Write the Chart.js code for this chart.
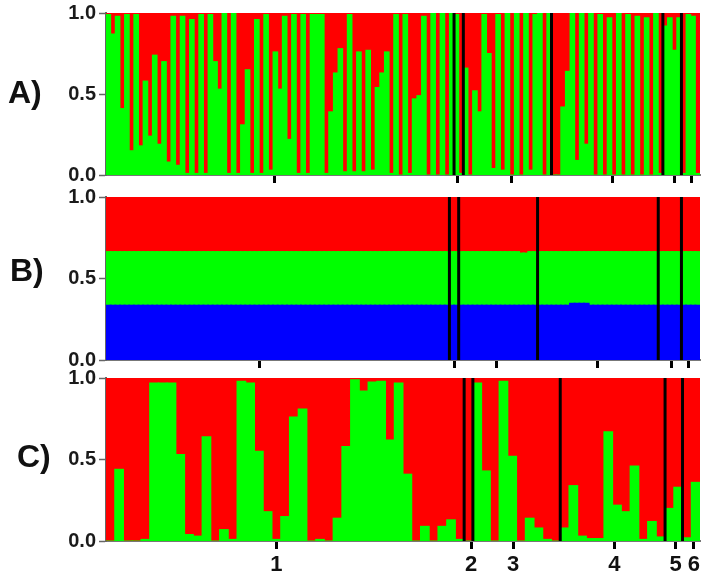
<!DOCTYPE html>
<html>
<head>
<meta charset="utf-8">
<script src="https://cdn.jsdelivr.net/npm/chart.js@4.4.1/dist/chart.umd.min.js"></script>
<style>
  body { margin: 0; background: #fff; }
  #wrap { position: relative; width: 703px; height: 578px; overflow: hidden; }
  canvas { position: absolute; left: 0; }
  .lab { position: absolute; font: bold 32px Arial, "Liberation Sans", sans-serif; line-height: 32px; color: #111; }
</style>
</head>
<body>
<div id="wrap">
  <canvas id="chartA" width="703" height="192" style="top:0px;width:703px;height:192px"></canvas>
  <canvas id="chartB" width="703" height="193" style="top:184px;width:703px;height:193px"></canvas>
  <canvas id="chartC" width="703" height="213" style="top:365px;width:703px;height:213px"></canvas>
  <div class="lab" style="left:8px;top:76px">A)</div>
  <div class="lab" style="left:10px;top:254px">B)</div>
  <div class="lab" style="left:17px;top:440px">C)</div>
</div>
<script>
// populations (labels under panel C)
const groupNames = ['1', '2', '3', '4', '5', '6'];
const yTickValues = [0, 0.5, 1];

// A) K=2 : green membership per individual (red is the rest)
const sizesA = [75, 2, 19, 24, 4, 4];
const greenA = [
  0.99, 0.87, 0.98, 0.41, 0.99, 0.15, 0.99, 0.18, 0.58, 0.24, 0.74, 0.19, 0.70, 0.08, 0.98, 0.06,
  0.98, 0.01, 0.96, 0.01, 0.99, 0.01, 0.99, 0.70, 0.53, 1.00, 0.01, 1.00, 0.01, 0.31, 0.65, 0.01,
  0.96, 0.01, 0.99, 0.03, 0.76, 0.53, 0.98, 0.22, 0.99, 0.01, 0.99, 0.01, 0.99, 0.99, 0.99, 0.01,
  0.39, 0.63, 0.78, 0.02, 0.99, 0.02, 0.76, 0.02, 0.77, 0.03, 0.54, 0.63, 0.76, 0.01, 0.99,
  0.00, 0.99, 0.01, 0.47, 0.49, 0.98, 0.00, 1.00, 0.00, 1.00, 0.00, 1.00,
  0.99, 0.01,
  0.66, 0.00, 0.52, 0.39, 0.99, 0.75, 0.04, 0.99, 0.03, 1.00, 0.00, 1.00, 0.00, 1.00, 0.03, 0.99,
  1.00, 0.00, 1.00,
  0.00, 0.00, 0.42, 0.64, 1.00, 0.09, 1.00, 0.19, 1.00, 0.00, 0.99, 0.00, 0.97, 0.00, 1.00, 0.00,
  0.99, 0.00, 0.98, 0.00, 0.97, 0.00, 1.00, 0.01,
  0.92, 0.97, 0.77, 0.97,
  0.01, 0.99, 0.98, 0.01
];
const tickPosA = [35.9, 75.2, 86.9, 108.7, 121.9, 125.6];

// B) K=3 : blue and green membership (red is the rest)
const sizesB = [74, 2, 17, 26, 5, 4];
const blueB = [
  0.333, 0.333, 0.333, 0.333, 0.333, 0.333, 0.333, 0.333, 0.333, 0.333, 0.333, 0.333, 0.333, 0.333, 0.333, 0.333,
  0.333, 0.333, 0.333, 0.333, 0.333, 0.333, 0.333, 0.333, 0.333, 0.333, 0.333, 0.333, 0.333, 0.333, 0.333, 0.333,
  0.333, 0.333, 0.333, 0.333, 0.333, 0.333, 0.333, 0.333, 0.333, 0.333, 0.333, 0.333, 0.333, 0.333, 0.333, 0.333,
  0.333, 0.333, 0.333, 0.333, 0.333, 0.333, 0.333, 0.333, 0.333, 0.333, 0.333, 0.333, 0.333, 0.333, 0.333, 0.333,
  0.333, 0.333, 0.333, 0.333, 0.333, 0.333, 0.333, 0.333, 0.333, 0.333, 0.333, 0.333, 0.333, 0.333, 0.333, 0.333,
  0.333, 0.333, 0.333, 0.333, 0.333, 0.333, 0.333, 0.333, 0.333, 0.333, 0.333, 0.333, 0.333, 0.333, 0.333, 0.333,
  0.333, 0.333, 0.333, 0.333, 0.345, 0.345, 0.345, 0.345, 0.333, 0.333, 0.333, 0.333, 0.333, 0.333, 0.333, 0.333,
  0.333, 0.333, 0.333, 0.333, 0.333, 0.333, 0.333, 0.333, 0.333, 0.333, 0.333, 0.333, 0.333, 0.333, 0.333, 0.333
];
const greenB = [
  0.329, 0.329, 0.329, 0.329, 0.329, 0.329, 0.329, 0.329, 0.329, 0.329, 0.329, 0.329, 0.329, 0.329, 0.329, 0.329,
  0.329, 0.329, 0.329, 0.329, 0.329, 0.329, 0.329, 0.329, 0.329, 0.329, 0.329, 0.329, 0.329, 0.329, 0.329, 0.329,
  0.329, 0.329, 0.329, 0.329, 0.329, 0.329, 0.329, 0.329, 0.329, 0.329, 0.329, 0.329, 0.329, 0.329, 0.329, 0.329,
  0.329, 0.329, 0.329, 0.329, 0.329, 0.329, 0.329, 0.329, 0.329, 0.329, 0.329, 0.329, 0.329, 0.329, 0.329, 0.329,
  0.329, 0.329, 0.329, 0.329, 0.329, 0.329, 0.329, 0.329, 0.329, 0.329, 0.329, 0.329, 0.329, 0.329, 0.329, 0.329,
  0.329, 0.329, 0.329, 0.329, 0.329, 0.329, 0.329, 0.329, 0.329, 0.320, 0.320, 0.329, 0.329, 0.329, 0.329, 0.329,
  0.329, 0.329, 0.329, 0.329, 0.317, 0.317, 0.317, 0.317, 0.329, 0.329, 0.329, 0.329, 0.329, 0.329, 0.329, 0.329,
  0.329, 0.329, 0.329, 0.329, 0.329, 0.329, 0.329, 0.329, 0.329, 0.329, 0.329, 0.329, 0.329, 0.329, 0.329, 0.329
];
const tickPosB = [32.6, 74.6, 83.6, 105.5, 121.3, 125.1];

// C) K=2 : green membership per individual
const sizesC = [41, 1, 10, 12, 2, 2];
const greenC = [
  0.00, 0.44, 0.00, 0.00, 0.01, 0.97, 0.97, 0.97, 0.53, 0.04, 0.03, 0.64, 0.00, 0.07, 0.01, 0.98,
  0.97, 0.55, 0.18, 0.01, 0.15, 0.76, 0.81, 0.00, 0.01, 0.00, 0.14, 0.58, 0.99, 0.92, 0.975, 0.98,
  0.62, 0.97, 0.41, 0.00, 0.09, 0.00, 0.09, 0.13, 0.01,
  0.00,
  0.97, 0.43, 0.00, 0.98, 0.52, 0.00, 0.14, 0.08, 0.01, 0.00,
  0.08, 0.34, 0.03, 0.015, 0.015, 0.67, 0.22, 0.18, 0.46, 0.01, 0.12, 0.025,
  0.20, 0.33,
  0.02, 0.36
];
const tickPosC = [19.0, 41.3, 46.1, 57.7, 64.7, 66.8];

const RED = '#ff0000', GREEN = '#00ff00', BLUE = '#0000ff';
const FONT = 'Arial, "Liberation Sans", sans-serif';

function separators(sizes) {
  const bounds = [];
  let acc = 0;
  sizes.slice(0, -1).forEach(g => { acc += g; bounds.push(acc); });
  return {
    id: 'separators',
    afterDatasetsDraw(chart) {
      const { ctx, chartArea, scales } = chart;
      ctx.save();
      ctx.strokeStyle = '#000';
      ctx.lineWidth = 3;
      bounds.forEach(b => {
        const px = scales.x2.getPixelForValue(b - 0.5);
        ctx.beginPath();
        ctx.moveTo(px, chartArea.top);
        ctx.lineTo(px, chartArea.bottom);
        ctx.stroke();
      });
      ctx.restore();
    }
  };
}

function makePanel(id, layers, sizes, tickPos, showLabels, bottomHeight, inflate) {
  const n = layers[0].data.length;
  const labels = layers[0].data.map((_, i) => 'ind' + (i + 1));
  new Chart(document.getElementById(id), {
    type: 'bar',
    data: {
      labels: labels,
      datasets: layers.map(l => ({
        data: l.data,
        backgroundColor: l.color,
        borderWidth: 0,
        barPercentage: 1,
        categoryPercentage: 1,
        inflateAmount: inflate,
        xAxisID: 'x',
        yAxisID: 'y'
      }))
    },
    options: {
      responsive: false,
      animation: false,
      devicePixelRatio: 1,
      layout: { padding: { top: 13, right: 3, left: 0, bottom: 0 } },
      plugins: { legend: { display: false }, tooltip: { enabled: false } },
      scales: {
        x: { display: false, stacked: true },
        x2: {
          type: 'linear', position: 'bottom', bounds: 'data', offset: false,
          min: -0.5, max: n - 0.5,
          afterBuildTicks: s => { s.ticks = tickPos.map(v => ({ value: v })); },
          afterFit: s => { s.height = bottomHeight; s.paddingLeft = 0; s.paddingRight = 0; },
          ticks: {
            display: showLabels, autoSkip: false, maxRotation: 0, padding: 3,
            color: '#111', font: { family: FONT, size: 22, weight: 'bold' },
            callback: (v, i) => groupNames[i]
          },
          grid: { offset: false, drawOnChartArea: false, drawTicks: true, tickLength: 8, tickWidth: 3, tickColor: '#000' },
          border: { display: true, color: '#777', width: 2 }
        },
        y: {
          stacked: true, min: 0, max: 1,
          afterBuildTicks: s => { s.ticks = yTickValues.map(v => ({ value: v })); },
          afterFit: s => { s.width = 106; s.paddingTop = 0; s.paddingBottom = 0; },
          ticks: {
            padding: 3, color: '#1a1a1a',
            font: { family: FONT, size: 20, weight: 'bold' },
            callback: v => v.toFixed(1)
          },
          grid: { drawOnChartArea: false, drawTicks: true, tickLength: 7, tickWidth: 1.5, tickColor: '#666' },
          border: { display: true, color: '#666', width: 2 }
        }
      }
    },
    plugins: [separators(sizes)]
  });
}

const redA = greenA.map(g => 1 - g);
const redB = blueB.map((b, i) => 1 - b - greenB[i]);
const redC = greenC.map(g => 1 - g);

makePanel('chartA', [{ data: greenA, color: GREEN }, { data: redA, color: RED }], sizesA, tickPosA, false, 17, 0.5);
makePanel('chartB', [{ data: blueB, color: BLUE }, { data: greenB, color: GREEN }, { data: redB, color: RED }], sizesB, tickPosB, false, 17, 1);
makePanel('chartC', [{ data: greenC, color: GREEN }, { data: redC, color: RED }], sizesC, tickPosC, true, 37, 0.5);
</script>
</body>
</html>
